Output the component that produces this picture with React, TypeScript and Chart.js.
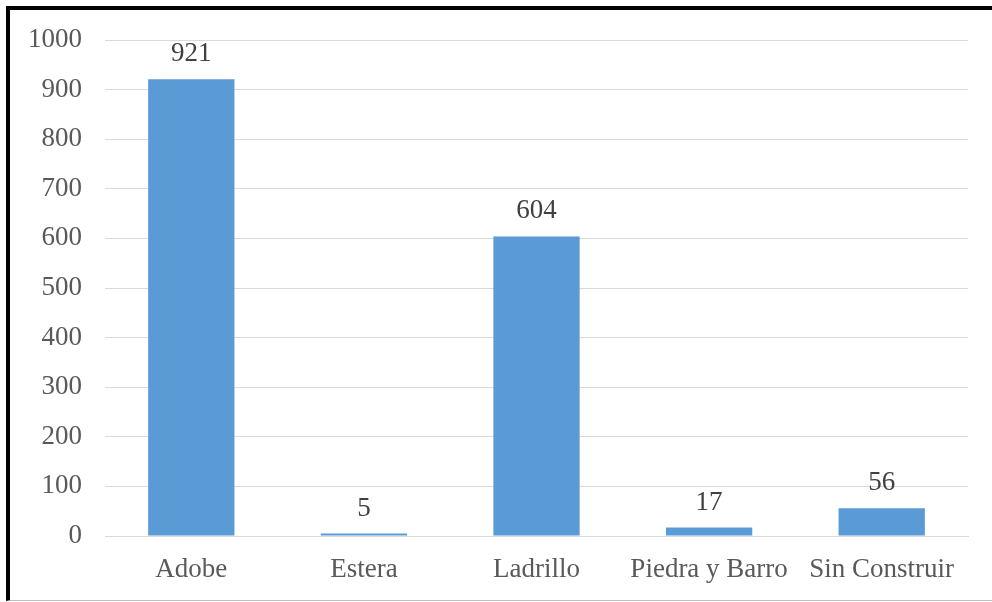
import React, { useEffect, useRef } from "react";
import { Chart, registerables } from "chart.js";

Chart.register(...registerables);

const categories = ["Adobe", "Estera", "Ladrillo", "Piedra y Barro", "Sin Construir"];
const values = [921, 5, 604, 17, 56];
const yTicks = [0, 100, 200, 300, 400, 500, 600, 700, 800, 900, 1000];

const FONT = "'Liberation Serif', 'Times New Roman', serif";

const valueLabels = {
  id: "valueLabels",
  afterDatasetsDraw(chart: any) {
    const ctx = chart.ctx;
    const meta = chart.getDatasetMeta(0);
    ctx.save();
    ctx.font = `27px ${FONT}`;
    ctx.fillStyle = "#404040";
    ctx.textAlign = "center";
    ctx.textBaseline = "alphabetic";
    meta.data.forEach((bar: any, i: number) => {
      ctx.fillText(String(values[i]), bar.x, bar.y - 18);
    });
    ctx.restore();
  },
};

export default function App() {
  const ref = useRef<HTMLCanvasElement>(null);
  useEffect(() => {
    if (!ref.current) return;
    const chart = new Chart(ref.current, {
      type: "bar",
      data: {
        labels: categories,
        datasets: [
          {
            data: values,
            backgroundColor: "#5B9BD5",
            barPercentage: 1,
            categoryPercentage: 0.5,
          },
        ],
      },
      options: {
        animation: false,
        responsive: false,
        maintainAspectRatio: false,
        layout: { padding: { left: 0, top: 40, right: 24, bottom: 0 } },
        plugins: { legend: { display: false }, tooltip: { enabled: false } },
        scales: {
          x: {
            grid: { display: false, drawTicks: false },
            border: { display: true, color: "#d9d9d9", width: 1 },
            ticks: {
              color: "#595959",
              font: { family: FONT, size: 27 },
              padding: 18,
              maxRotation: 0,
              autoSkip: false,
            },
            afterFit: (s: any) => {
              s.height = 66;
            },
          },
          y: {
            min: 0,
            max: 1000,
            afterBuildTicks: (s: any) => {
              s.ticks = yTicks.map((v) => ({ value: v }));
            },
            grid: { color: "#d9d9d9", drawTicks: false, lineWidth: 1 },
            border: { display: false },
            ticks: {
              color: "#595959",
              font: { family: FONT, size: 27 },
              padding: 23,
              callback: (v: any) => String(v),
            },
            afterFit: (s: any) => {
              s.width = 105;
            },
          },
        },
      },
      plugins: [valueLabels],
    });
    return () => chart.destroy();
  }, []);

  return (
    <div style={{ position: "absolute", left: 0, top: 0, width: 992, height: 602, background: "#fff" }}>
      <canvas ref={ref} width={992} height={602} style={{ position: "absolute", left: 0, top: 0 }} />
      <div
        style={{
          position: "absolute",
          left: 6,
          top: 6,
          width: 986,
          height: 595,
          borderLeft: "4px solid #000",
          borderTop: "4px solid #000",
          borderBottom: "1px solid #bfbfbf",
          boxSizing: "border-box",
          pointerEvents: "none",
        }}
      />
    </div>
  );
}
